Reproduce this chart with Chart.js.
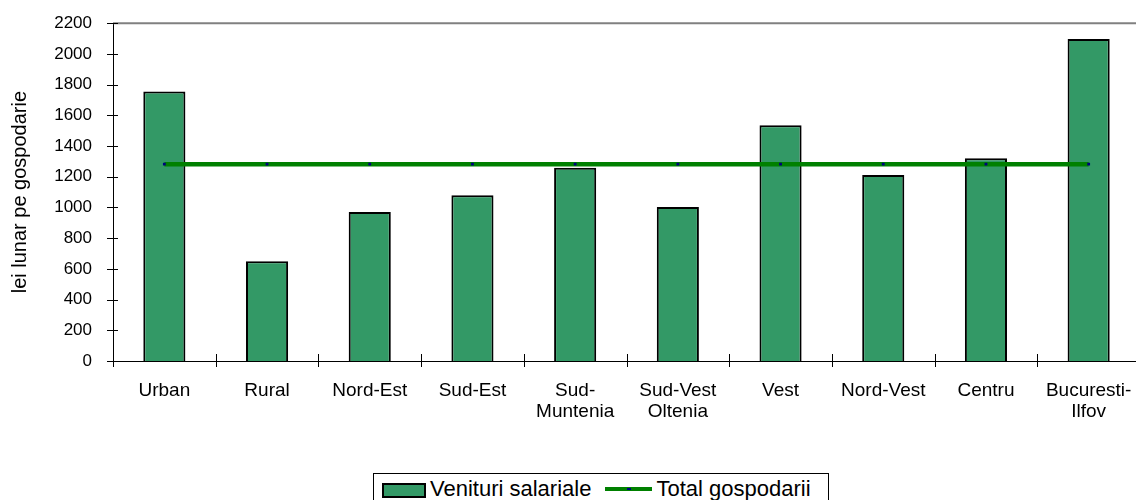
<!DOCTYPE html>
<html>
<head>
<meta charset="utf-8">
<script src="https://cdn.jsdelivr.net/npm/chart.js@4/dist/chart.umd.min.js"></script>
<style>
  html, body { margin: 0; padding: 0; background: #fff; overflow: hidden; }
  #wrap { position: relative; width: 1144px; height: 500px; }
  #chart { display: block; }
  #legend {
    position: absolute; left: 373px; top: 473px; width: 456px; height: 32px;
    border: 1px solid #000; box-sizing: border-box; background: #fff;
    font-family: "Liberation Sans", Arial, sans-serif; font-size: 22px; color: #000;
    display: flex; align-items: center; white-space: nowrap;
  }
  .sw-bar { display: inline-block; width: 40px; height: 11px; background: #339966; border: 2px solid #000; margin: 3px 4px 0 8px; }
  .sw-line { display: inline-block; position: relative; width: 47px; height: 4px; background: #008000; margin: 0 4px 0 14px; }
  .sw-line i { position: absolute; left: 22px; top: 1px; width: 4px; height: 2px; background: #000080; }
</style>
</head>
<body>
<div id="wrap">
  <canvas id="chart" width="1144" height="500"></canvas>
  <div id="legend">
    <span class="sw-bar"></span><span>Venituri salariale</span>
    <span class="sw-line"><i></i></span><span>Total gospodarii</span>
  </div>
</div>
<script>
// wage income per household vs household total, by area / region
const categories = ['Urban', 'Rural', 'Nord-Est', 'Sud-Est', ['Sud-', 'Muntenia'], ['Sud-Vest', 'Oltenia'], 'Vest', 'Nord-Vest', 'Centru', ['Bucuresti-', 'Ilfov']];
const venituriSalariale = [1755, 650, 970, 1080, 1258, 1003, 1535, 1212, 1320, 2097];
const totalGospodarii = [1282, 1282, 1282, 1282, 1282, 1282, 1282, 1282, 1282, 1282];
const yTicks = [0, 200, 400, 600, 800, 1000, 1200, 1400, 1600, 1800, 2000, 2200];

const FONT = '"Liberation Sans", Arial, sans-serif';

// small tick marks crossing the axes + grey frame on top
const axisTicks = {
    id: 'axisTicks',
    afterDraw(chart){
        const ctx = chart.ctx;
        const a = chart.chartArea;
        const y = chart.scales.y;
        ctx.save();
        ctx.strokeStyle = '#808080';
        ctx.lineWidth = 2;
        ctx.beginPath();
        ctx.moveTo(a.left, a.top);
        ctx.lineTo(a.right, a.top);
        ctx.stroke();
        ctx.strokeStyle = '#000';
        ctx.lineWidth = 1;
        ctx.beginPath();
        yTicks.forEach(v => {
            const py = Math.round(y.getPixelForValue(v)) + 0.5;
            ctx.moveTo(a.left - 6, py);
            ctx.lineTo(a.left + 5, py);
        });
        const step = (a.right - a.left) / categories.length;
        for (let i = 0; i <= categories.length; i++) {
            const px = Math.round(a.left + i * step) + 0.5;
            ctx.moveTo(px, a.bottom - 7);
            ctx.lineTo(px, a.bottom + 6);
        }
        ctx.stroke();
        ctx.restore();
    }
};

new Chart(document.getElementById('chart'), {
    type: 'bar',
    data: {
        labels: categories,
        datasets: [
            {
                type: 'line',
                label: 'Total gospodarii',
                data: totalGospodarii,
                borderColor: '#008000',
                borderWidth: 4.5,
                pointStyle: 'rect',
                pointRadius: 2,
                pointBorderWidth: 0,
                pointBackgroundColor: '#000080',
                tension: 0,
                fill: false,
                order: 0
            },
            {
                type: 'bar',
                label: 'Venituri salariale',
                data: venituriSalariale,
                backgroundColor: '#339966',
                borderColor: '#000',
                borderWidth: 2,
                barPercentage: 0.41,
                categoryPercentage: 1,
                order: 1
            }
        ]
    },
    options: {
        responsive: false,
        animation: false,
        layout: { padding: { top: 23, right: 0, bottom: 0, left: 0 } },
        plugins: {
            legend: { display: false },
            title: { display: false },
            tooltip: { enabled: false }
        },
        scales: {
            x: {
                offset: true,
                grid: { display: false },
                border: { display: true, color: '#000', width: 1 },
                ticks: { color: '#000', font: { family: FONT, size: 19, lineHeight: 1.1 }, padding: 11, maxRotation: 0, autoSkip: false },
                afterFit(scale){ scale.height = 139; }
            },
            y: {
                min: 0,
                max: 2200,
                grid: { display: false },
                border: { display: true, color: '#000', width: 1 },
                ticks: { stepSize: 200, color: '#000', font: { family: FONT, size: 17 }, padding: 13, callback: v => String(v) },
                title: { display: true, text: 'lei lunar pe gospodarie', color: '#000', font: { family: FONT, size: 20 }, padding: { top: 8, bottom: 0 } },
                afterFit(scale){ scale.width = 113; }
            }
        }
    },
    plugins: [axisTicks]
});
</script>
</body>
</html>
